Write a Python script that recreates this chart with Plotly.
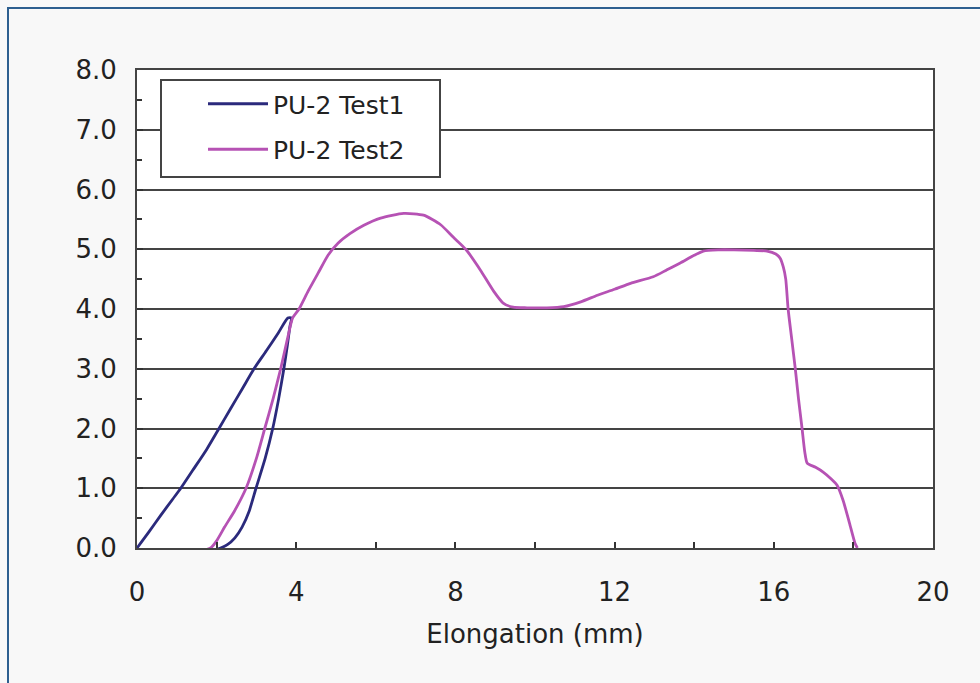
import plotly.graph_objects as go

# Test 1 (loading then unloading)
test1_x = [0.0, 0.3, 0.6, 0.9, 1.1, 1.4, 1.75, 2.06, 2.35, 2.65, 2.94, 3.25, 3.55, 3.79, 3.88,
           3.84, 3.78, 3.69, 3.56, 3.41, 3.22, 2.99, 2.82, 2.64, 2.46, 2.28, 2.1, 1.95, 1.82]
test1_y = [0.0, 0.27, 0.55, 0.82, 1.0, 1.3, 1.65, 2.0, 2.33, 2.67, 3.0, 3.3, 3.6, 3.85, 3.85,
           3.7, 3.4, 3.0, 2.5, 2.0, 1.5, 1.0, 0.62, 0.35, 0.17, 0.06, 0.0, -0.03, -0.03]

# Test 2
test2_x = [1.72, 1.85, 2.0, 2.2, 2.45, 2.74, 3.0, 3.21, 3.42, 3.61, 3.78, 3.91, 4.07, 4.3, 4.55,
           4.8, 5.05, 5.35, 5.7, 6.12, 6.7, 7.2, 7.63, 7.95, 8.26, 8.63, 8.96, 9.2, 9.45, 9.8, 10.3,
           10.72, 11.15, 11.57, 12.0, 12.4, 12.97, 13.3, 13.65, 14.0, 14.23, 14.6, 15.0, 15.5,
           15.83, 16.05, 16.16, 16.24, 16.3, 16.36, 16.45, 16.54, 16.62, 16.71, 16.78, 16.84,
           17.05, 17.24, 17.45, 17.59, 17.74, 17.9, 18.04, 18.1]
test2_y = [-0.03, 0.0, 0.12, 0.35, 0.62, 1.0, 1.5, 2.0, 2.5, 3.0, 3.5, 3.85, 4.0, 4.3, 4.6,
           4.9, 5.1, 5.26, 5.4, 5.52, 5.6, 5.57, 5.41, 5.2, 5.0, 4.65, 4.3, 4.1, 4.03, 4.02, 4.02,
           4.04, 4.12, 4.23, 4.33, 4.43, 4.54, 4.65, 4.77, 4.9, 4.97, 4.99, 4.99, 4.98,
           4.97, 4.92, 4.85, 4.7, 4.5, 4.0, 3.5, 3.0, 2.5, 2.0, 1.6, 1.42,
           1.35, 1.27, 1.15, 1.05, 0.8, 0.42, 0.08, 0.0]

series_names = ["PU-2 Test1", "PU-2 Test2"]
series_colors = ["#2b2a7c", "#b652b4"]

x_tickvals = [0, 4, 8, 12, 16, 20]
y_tickvals = [0, 1, 2, 3, 4, 5, 6, 7, 8]
y_ticktext = ["%.1f" % v for v in y_tickvals]
x_title = "Elongation (mm)"

FONT = "DejaVu Sans"

fig = go.Figure()
fig.add_trace(go.Scatter(x=test1_x, y=test1_y, mode="lines", name=series_names[0],
                         legendgroup="a", line_shape="spline",
                         line=dict(color=series_colors[0], width=2.8, smoothing=0.6)))
fig.add_trace(go.Scatter(x=test2_x, y=test2_y, mode="lines", name=series_names[1],
                         legendgroup="b", line_shape="spline",
                         line=dict(color=series_colors[1], width=2.8, smoothing=0.6)))

W, H = 980, 683
L, R, T, B = 137, 47, 70, 135
pw, ph = W - L - R, H - T - B

def px(xp):
    return (xp - L) / pw

def py(yp):
    return (H - B - yp) / ph

fig.update_layout(
    width=W, height=H,
    margin=dict(l=L, r=R, t=T, b=B, pad=0),
    paper_bgcolor="#f8f8f8",
    plot_bgcolor="#ffffff",
    font=dict(family=FONT, size=25, color="#222222"),
    showlegend=True,
    legend=dict(
        x=px(203), y=py(81), xanchor="left", yanchor="top",
        bgcolor="rgba(0,0,0,0)", borderwidth=0,
        font=dict(family=FONT, size=25, color="#222222"),
        tracegroupgap=10, itemwidth=60,
    ),
    shapes=[
        dict(type="rect", xref="paper", yref="paper",
             x0=px(8), x1=px(1100), y0=py(8), y1=py(800),
             line=dict(color="#2d5f8f", width=2), fillcolor="rgba(0,0,0,0)", layer="below"),
        dict(type="rect", xref="paper", yref="paper",
             x0=px(161), x1=px(440), y0=py(80), y1=py(177),
             line=dict(color="#444444", width=2), fillcolor="#ffffff", layer="above"),
    ],
)

fig.update_xaxes(
    range=[0, 20], tickvals=x_tickvals, ticks="inside", ticklen=6, tickwidth=1.5,
    tickcolor="#333333", showgrid=False, zeroline=False,
    showline=True, linecolor="#444444", linewidth=2, mirror=True,
    minor=dict(dtick=2, ticks="inside", ticklen=6, tickwidth=1.5, tickcolor="#333333", showgrid=False),
    ticklabelstandoff=20,
    tickfont=dict(family=FONT, size=26, color="#222222"),
    title=dict(text=x_title, font=dict(family=FONT, size=26, color="#222222"), standoff=19),
)
fig.update_yaxes(
    range=[0, 8], tickvals=y_tickvals, ticktext=y_ticktext, ticks="inside", ticklen=6,
    tickwidth=1.5, tickcolor="#333333",
    showgrid=True, gridcolor="#444444", gridwidth=2, zeroline=False,
    showline=True, linecolor="#444444", linewidth=2, mirror=True,
    minor=dict(dtick=0.5, ticks="inside", ticklen=5, tickwidth=1.5, tickcolor="#333333", showgrid=False),
    ticklabelstandoff=13,
    tickfont=dict(family=FONT, size=26, color="#222222"),
)

fig.write_html("out.html")
